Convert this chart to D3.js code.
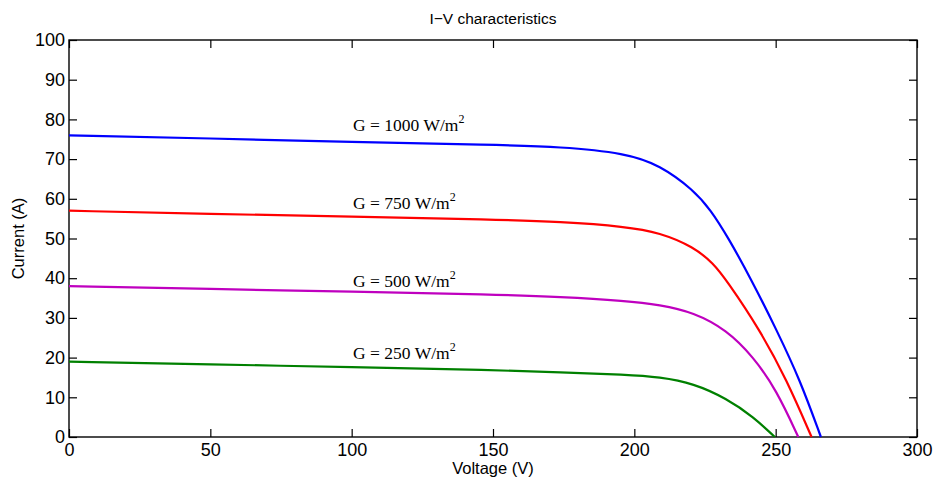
<!DOCTYPE html>
<meta charset="utf-8">
<script src="https://d3js.org/d3.v7.min.js"></script>
<html>
<style>
body { margin: 0; background: #fff; }
text { font-family: "Liberation Sans", Arial, sans-serif; }
.lbl { font-family: "Liberation Serif", "Times New Roman", serif; }
</style>
<body>
<svg id="chart" width="937" height="484"></svg>
<script>

// data
var xTicks = [0, 50, 100, 150, 200, 250, 300];
var yTicks = [0, 10, 20, 30, 40, 50, 60, 70, 80, 90, 100];

var v1000 = [0, 50, 100, 150, 174, 197, 209, 221, 227, 233, 241.5, 250.3, 258.6, 266];
var i1000 = [76, 75.2, 74.3, 73.6, 73.1, 71.5, 68.5, 62.2, 57.2, 50.5, 39.5, 27.0, 14.4, 0];
var v750 = [0, 50, 100, 150, 174, 197, 209, 221, 228, 232.6, 244.4, 253.9, 262.7];
var i750 = [57, 56.2, 55.5, 54.8, 54.2, 53.0, 51.5, 47.9, 43.7, 39.5, 27.0, 14.4, 0];
var v500 = [0, 50, 100, 150, 174, 197, 209, 221, 232.6, 242.1, 250.3, 258];
var i500 = [38, 37.3, 36.6, 35.9, 35.3, 34.3, 33.3, 31.4, 27.0, 20.2, 11.8, 0];
var v250 = [0, 50, 100, 150, 174, 197, 209, 221, 232.6, 242.1, 249.7];
var i250 = [19, 18.3, 17.6, 16.9, 16.3, 15.7, 15.1, 13.5, 9.7, 5.1, 0];

var irradiance = ["1000", "750", "500", "250"];
var colors = ["#0000ff", "#ff0000", "#bf00bf", "#008000"];
// label anchor (voltage, current) in data units
var labelV = [100.5, 100.5, 100.5, 100.5];
var labelI = [77, 57.3, 37.6, 19.5];

var series = [
  {v: v1000, i: i1000},
  {v: v750, i: i750},
  {v: v500, i: i500},
  {v: v250, i: i250}
];

var svg = d3.select("#chart");
var mLeft = 69, mRight = 917, mTop = 40, mBottom = 437;

var x = d3.scaleLinear().domain([0, 300]).range([mLeft, mRight]);
var y = d3.scaleLinear().domain([0, 100]).range([mBottom, mTop]);

// axes with inward ticks (left/bottom labelled, top/right mirrored)
svg.append("g")
  .attr("transform", "translate(0," + mBottom + ")")
  .call(d3.axisBottom(x).tickValues(xTicks).tickSize(-8))
  .call(function(g) {
    g.select(".domain").remove();
    g.selectAll("text").style("font-size", "18px").attr("dy", "0.71em").attr("y", 6);
  });
svg.append("g")
  .attr("transform", "translate(" + mLeft + ",0)")
  .call(d3.axisLeft(y).tickValues(yTicks).tickSize(-8))
  .call(function(g) {
    g.select(".domain").remove();
    g.selectAll("text").style("font-size", "18px").attr("x", -4);
  });
svg.append("g")
  .attr("transform", "translate(0," + mTop + ")")
  .call(d3.axisTop(x).tickValues(xTicks).tickSize(-8).tickFormat(""))
  .call(function(g) { g.select(".domain").remove(); });
svg.append("g")
  .attr("transform", "translate(" + mRight + ",0)")
  .call(d3.axisRight(y).tickValues(yTicks).tickSize(-8).tickFormat(""))
  .call(function(g) { g.select(".domain").remove(); });

svg.selectAll(".tick line").attr("stroke", "#000").attr("stroke-width", 1.2);
svg.selectAll(".tick text").attr("fill", "#000");

svg.append("rect")
  .attr("x", mLeft).attr("y", mTop)
  .attr("width", mRight - mLeft).attr("height", mBottom - mTop)
  .attr("fill", "none").attr("stroke", "#000").attr("stroke-width", 1.4);

// curves
var line = d3.line()
  .x(function(d) { return x(d[0]); })
  .y(function(d) { return y(d[1]); })
  .curve(d3.curveBasis);

// draw lowest first so blue ends on top
for (var k = series.length - 1; k >= 0; k--) {
  var pts = series[k].v.map(function(v, j) { return [v, series[k].i[j]]; });
  svg.append("path")
    .attr("d", line(pts))
    .attr("fill", "none")
    .attr("stroke", colors[k])
    .attr("stroke-width", 2.2);
}

// irradiance labels
irradiance.forEach(function(g, k) {
  var t = svg.append("text")
    .attr("class", "lbl")
    .attr("x", x(labelV[k]))
    .attr("y", y(labelI[k]) - 0.5)
    .style("font-size", "17.5px");
  t.append("tspan").text("G = " + g + " W/m");
  t.append("tspan").attr("dy", -8).style("font-size", "12px").text("2");
});

// title and axis labels
svg.append("text")
  .attr("x", (mLeft + mRight) / 2).attr("y", 24)
  .attr("text-anchor", "middle")
  .style("font-size", "15.5px")
  .text("I\u2212V characteristics");

svg.append("text")
  .attr("x", (mLeft + mRight) / 2).attr("y", 474)
  .attr("text-anchor", "middle")
  .style("font-size", "16.5px")
  .text("Voltage (V)");

svg.append("text")
  .attr("transform", "translate(24," + (mTop + mBottom) / 2 + ") rotate(-90)")
  .attr("text-anchor", "middle")
  .style("font-size", "16.5px")
  .text("Current (A)");

</script>
</body>
</html>
